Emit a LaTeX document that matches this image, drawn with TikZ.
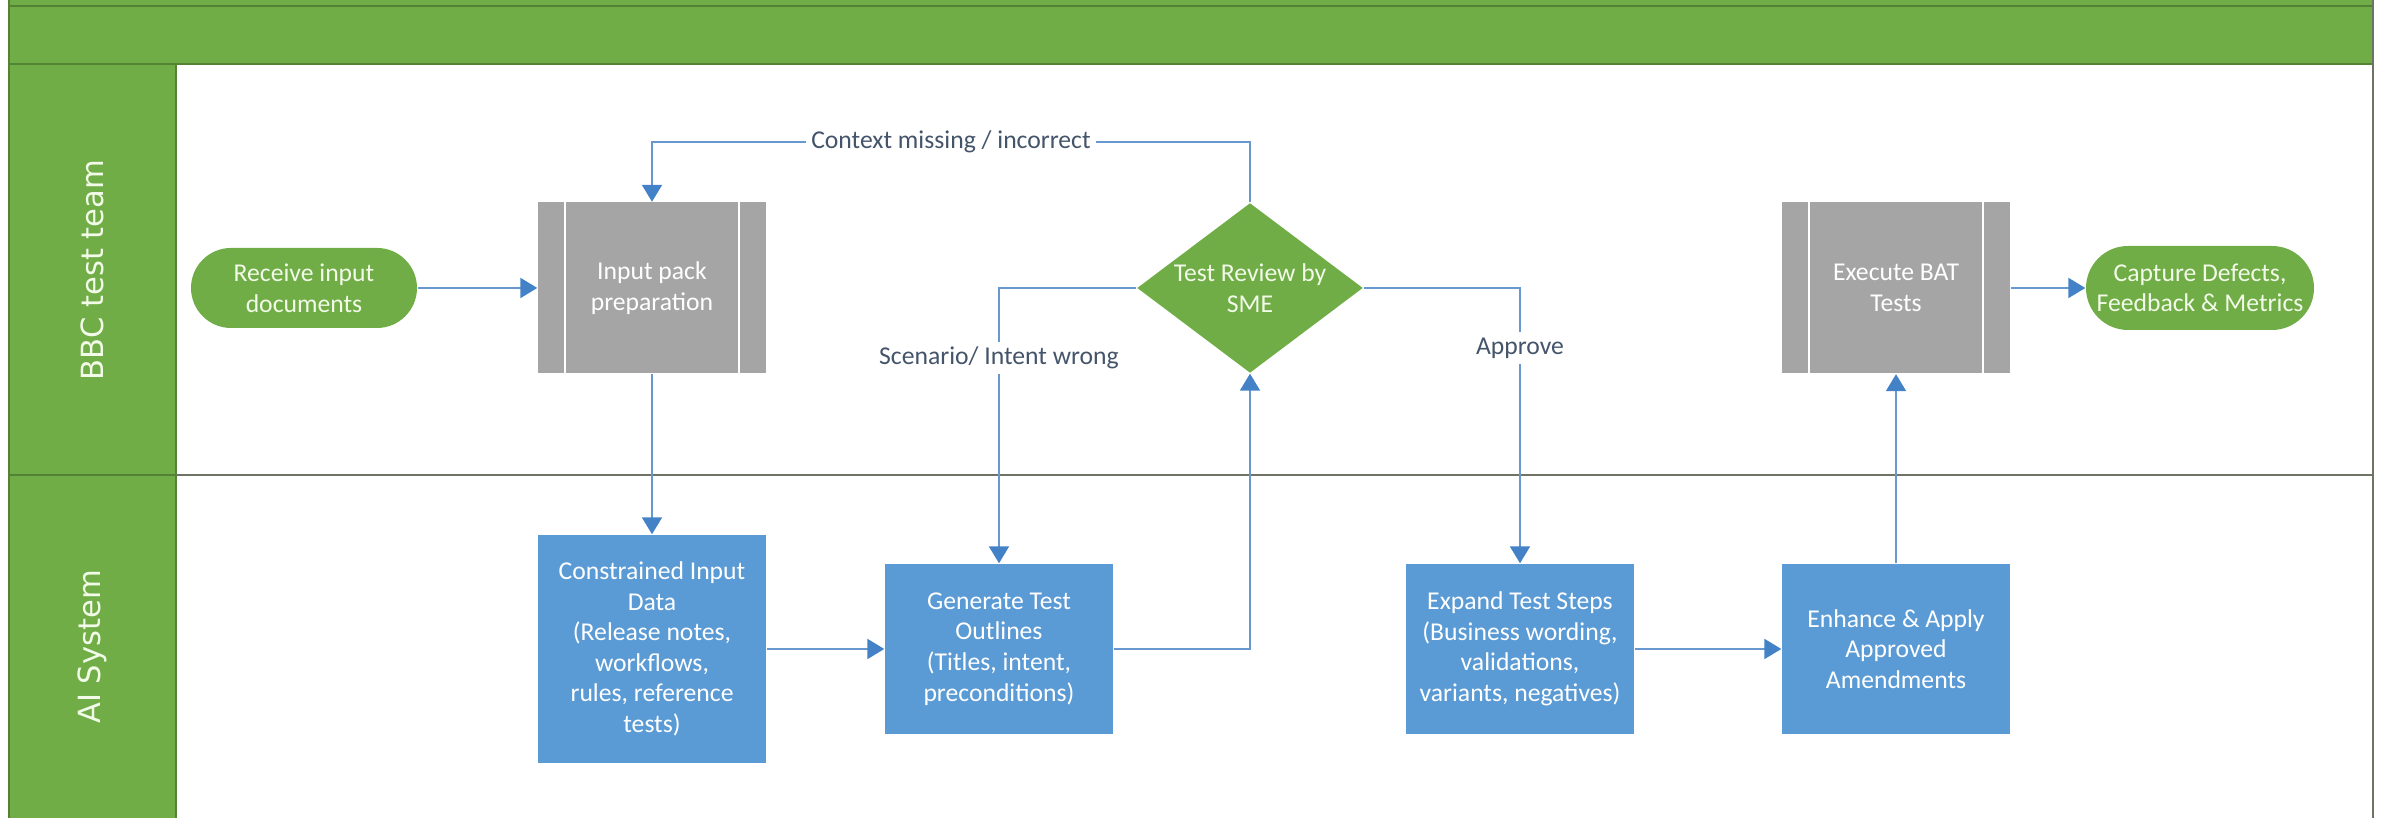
\documentclass[tikz,border=0pt]{standalone}
\usepackage{fontspec}
\setmainfont{Carlito}
\newfontfamily\lanefont{DejaVu Sans}
\usetikzlibrary{arrows.meta,shapes.geometric,positioning}

\begin{document}
\begin{tikzpicture}[
    every node/.style={font=\fontsize{7.3}{8.7}\selectfont, align=center, inner sep=1pt},
    flow/.style={draw=lnx, line width=0.6pt, -{Triangle[width=0.2cm,length=0.17cm,color=tip]}},
    pill/.style={fill=grn, text=txw, rounded corners=0.4cm, minimum width=2.26cm, minimum height=0.8cm},
    subproc/.style={fill=gry, text=white, minimum width=2.28cm, minimum height=1.71cm,
        path picture={
            \draw[white, line width=0.5pt]
                ([xshift=0.27cm]path picture bounding box.north west) -- ([xshift=0.27cm]path picture bounding box.south west)
                ([xshift=-0.27cm]path picture bounding box.north east) -- ([xshift=-0.27cm]path picture bounding box.south east);
        }},
    aistep/.style={fill=blu, text=white, minimum width=2.28cm, minimum height=1.70cm},
    check/.style={diamond, fill=grn, text=txw, aspect=1.33, inner sep=-3pt, minimum width=2.26cm, minimum height=1.70cm},
    tag/.style={fill=white, text=lbl, inner sep=1.5pt},
    lane/.style={font=\lanefont\fontsize{8.7}{10}\selectfont, text=txw, rotate=90}
]
    \definecolor{grn}{RGB}{112,173,71}
    \definecolor{dkg}{RGB}{84,130,53}
    \definecolor{blu}{RGB}{91,155,213}
    \definecolor{gry}{RGB}{165,165,165}
    \definecolor{lnx}{RGB}{104,152,208}
    \definecolor{tip}{RGB}{68,130,200}
    \definecolor{lbl}{RGB}{68,84,106}
    \definecolor{txw}{RGB}{242,250,232}
    \definecolor{lgr}{RGB}{110,116,100}

    \useasboundingbox (0,0) rectangle (23.87,8.18);

    \fill[grn] (0.09,7.54) rectangle (23.73,8.18);
    \fill[grn] (0.09,0) rectangle (1.76,7.54);
    \draw[dkg, line width=0.8pt] (0.09,8.12) -- (23.73,8.12);
    \draw[dkg, line width=0.8pt] (0.09,7.54) -- (23.73,7.54);
    \draw[dkg, line width=0.5pt] (0.09,0) -- (0.09,8.18);
    \draw[dkg, line width=0.5pt] (1.76,0) -- (1.76,7.54);
    \draw[dkg, line width=0.8pt] (0.09,3.43) -- (1.76,3.43);
    \draw[lgr, line width=0.8pt] (1.76,3.43) -- (23.73,3.43);
    \draw[lgr, line width=0.8pt] (23.73,0) -- (23.73,8.18);

    \node[lane] (bbc) at (0.92,5.48) {BBC test team};
    \node[lane] (ais) at (0.92,1.71) {AI System};

    \node[pill] (rcv) at (3.04,5.30) {Receive input\\documents};
    \node[subproc] (prep) at (6.52,5.30) {Input pack\\preparation};
    \node[check] (rev) at (12.50,5.30) {Test Review by\\SME};
    \node[subproc] (exe) at (18.96,5.30) {Execute BAT\\Tests};
    \node[pill, minimum width=2.28cm, minimum height=0.84cm, rounded corners=0.42cm] (cap) at (22.00,5.30) {Capture Defects,\\Feedback \& Metrics};

    \node[aistep, minimum height=2.28cm] (con) at (6.52,1.69) {Constrained Input\\Data\\(Release notes,\\workflows,\\rules, reference\\tests)};
    \node[aistep] (gen) at (9.99,1.69) {Generate Test\\Outlines\\(Titles, intent,\\preconditions)};
    \node[aistep] (exp) at (15.20,1.69) {Expand Test Steps\\(Business wording,\\validations,\\variants, negatives)};
    \node[aistep] (enh) at (18.96,1.69) {Enhance \& Apply\\Approved\\Amendments};

    \draw[flow] (rcv) -- (prep);
    \draw[flow] (prep) -- (con);
    \draw[flow] (con) -- (gen);
    \draw[flow] (gen.east) -| (rev.south);
    \draw[flow] (rev.north) -- ++(0,0.6) -| node[tag, pos=0.25] {Context missing / incorrect} (prep.north);
    \draw[flow] (rev.west) -| node[tag, pos=0.627] {Scenario/ Intent wrong} (gen.north);
    \draw[flow] (rev.east) -| node[tag, pos=0.609] {Approve} (exp.north);
    \draw[flow] (exp) -- (enh);
    \draw[flow] (enh) -- (exe);
    \draw[flow] (exe) -- (cap);
\end{tikzpicture}
\end{document}
